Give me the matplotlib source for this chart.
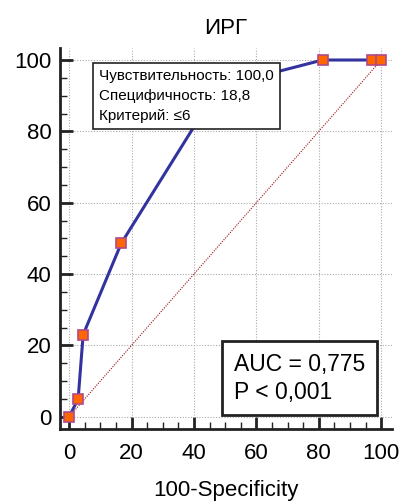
import matplotlib
matplotlib.use('Agg')
import matplotlib.pyplot as plt
from matplotlib.ticker import MultipleLocator

plt.rcParams['font.family'] = ['Liberation Sans', 'DejaVu Sans']

# ROC points (100-Specificity, Sensitivity)
fpr = [0, 2.9, 4.5, 16.7, 48.0, 81.2, 96.9, 100]
tpr = [0, 5.0, 23.0, 48.6, 92.5, 100, 100, 100]

title = 'ИРГ'
xlabel = '100-Specificity'
info = 'Чувствительность: 100,0\nСпецифичность: 18,8\nКритерий: ≤6'
auc_text = 'AUC = 0,775\nP < 0,001'

fig = plt.figure(figsize=(4.03, 5.04), dpi=100)
ax = fig.add_axes([0.149, 0.149, 0.824, 0.756])

ax.plot([0, 100], [0, 100], color='#a01010', lw=0.8, ls=(0, (1, 1.2)), zorder=2)
ax.plot(fpr, tpr, color='#3333a0', lw=2.2, zorder=3)
ax.plot(fpr, tpr, ls='none', marker='s', ms=7.5, mfc='#ff6600', mec='#b04a8a', mew=1.2, zorder=4)

ax.set_xlim(-2.9, 103.5)
ax.set_ylim(-3.4, 103.4)
ax.xaxis.set_major_locator(MultipleLocator(20))
ax.yaxis.set_major_locator(MultipleLocator(20))
ax.xaxis.set_minor_locator(MultipleLocator(5))
ax.yaxis.set_minor_locator(MultipleLocator(5))
ax.grid(True, which='major', color='#aaaaaa', ls=(0, (1, 1.5)), lw=0.8, zorder=0)

for s in ['top', 'right']:
    ax.spines[s].set_visible(False)
for s in ['left', 'bottom']:
    ax.spines[s].set_linewidth(2)
    ax.spines[s].set_color('#222222')

ax.tick_params(which='major', direction='in', length=9, width=2, color='#222222', labelsize=16)
ax.tick_params(which='minor', direction='in', length=5, width=1, color='#222222')
ax.tick_params(axis='x', which='major', pad=10)
ax.tick_params(axis='y', which='major', pad=6)

ax.set_title(title, fontsize=16, pad=10)
ax.set_xlabel(xlabel, fontsize=16, labelpad=12)

ax.text(9.5, 97.4, info, fontsize=11, va='top', ha='left', linespacing=1.55, zorder=5,
        bbox=dict(boxstyle='square,pad=0.4', fc='white', ec='#222222', lw=1.2))
ax.text(52.8, 10.8, auc_text, fontsize=16.5, va='center', ha='left', linespacing=1.3, zorder=5,
        bbox=dict(boxstyle='square,pad=0.5', fc='white', ec='#222222', lw=2))

fig.savefig('out.png', dpi=100)
